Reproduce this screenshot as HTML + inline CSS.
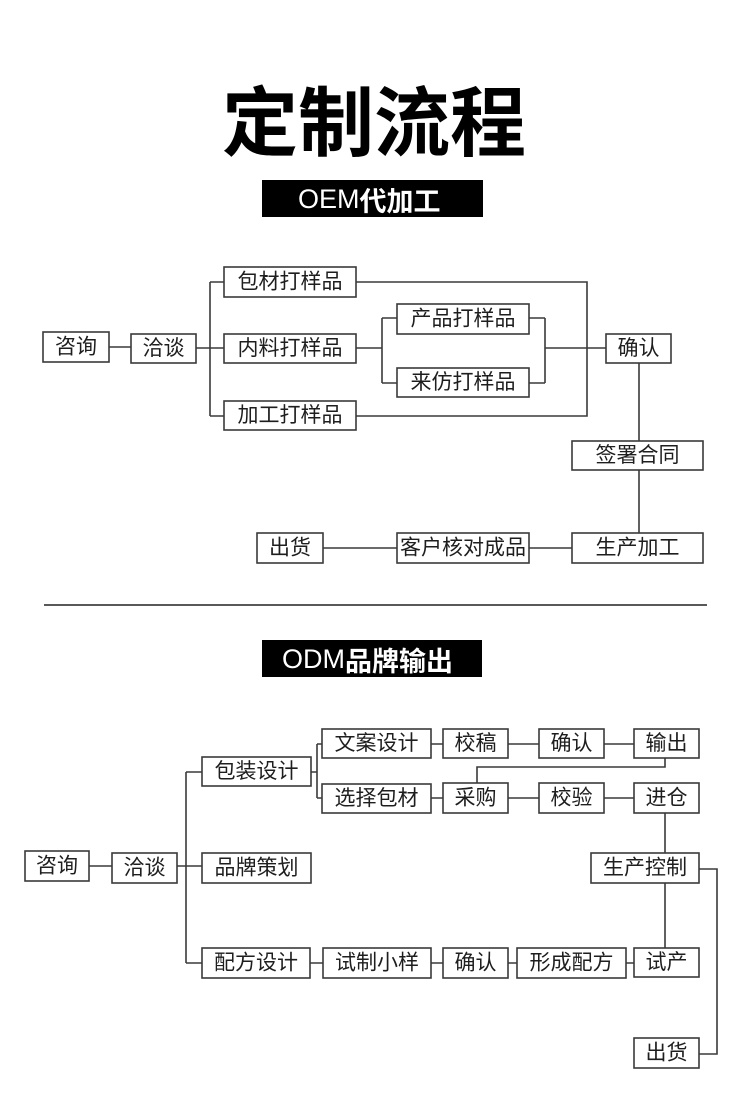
<!DOCTYPE html>
<html>
<head>
<meta charset="utf-8">
<style>
html,body{margin:0;padding:0;background:#fff;}
svg{display:block;}
.b{fill:#fff;stroke:#3a3a3a;stroke-width:1.6;}
.l{fill:none;stroke:#3a3a3a;stroke-width:1.6;}
.t{font-family:"Liberation Sans","Noto Sans CJK SC",sans-serif;font-size:21px;fill:#1e1e1e;text-anchor:middle;dominant-baseline:central;}
</style>
</head>
<body>
<svg width="750" height="1104" viewBox="0 0 750 1104" xmlns="http://www.w3.org/2000/svg">
<rect width="750" height="1104" fill="#fff"/>
<!-- Title -->
<text x="374" y="117" style="font-family:'Noto Sans CJK SC',sans-serif;font-size:76px;font-weight:bold;fill:#000;text-anchor:middle;dominant-baseline:central;">定制流程</text>

<!-- OEM label -->
<rect x="262" y="180" width="221" height="37" fill="#000"/>
<text x="298" y="199" style="font-size:27px;fill:#fff;dominant-baseline:central;"><tspan style="font-family:'Liberation Sans',sans-serif;font-weight:normal;">OEM</tspan><tspan style="font-family:'Noto Sans CJK SC',sans-serif;font-weight:bold;">代加工</tspan></text>

<!-- OEM lines -->
<path class="l" d="M109 347H131 M196 348H210 M210 282V416 M210 282H224 M210 348H224 M210 416H224
M356 282H587V416H356 M356 348H382 M382 318V383 M382 318H397 M382 383H397
M529 318H545 M529 383H545 M545 318V383 M545 348H606
M639 363V441 M639 470V533 M323 548H397 M529 548H572"/>

<!-- OEM boxes -->
<rect class="b" x="43" y="332" width="66" height="30"/><text class="t" x="76" y="347">咨询</text>
<rect class="b" x="131" y="334" width="65" height="29"/><text class="t" x="163.5" y="348.5">洽谈</text>
<rect class="b" x="224" y="267" width="132" height="30"/><text class="t" x="290" y="282">包材打样品</text>
<rect class="b" x="224" y="334" width="132" height="29"/><text class="t" x="290" y="348.5">内料打样品</text>
<rect class="b" x="224" y="401" width="132" height="29"/><text class="t" x="290" y="415.5">加工打样品</text>
<rect class="b" x="397" y="304" width="132" height="30"/><text class="t" x="463" y="319">产品打样品</text>
<rect class="b" x="397" y="368" width="132" height="29"/><text class="t" x="463" y="382.5">来仿打样品</text>
<rect class="b" x="606" y="334" width="65" height="29"/><text class="t" x="638.5" y="348.5">确认</text>
<rect class="b" x="572" y="441" width="131" height="29"/><text class="t" x="637.5" y="455.5">签署合同</text>
<rect class="b" x="572" y="533" width="131" height="30"/><text class="t" x="637.5" y="548">生产加工</text>
<rect class="b" x="397" y="533" width="132" height="30"/><text class="t" x="463" y="548">客户核对成品</text>
<rect class="b" x="257" y="533" width="66" height="30"/><text class="t" x="290" y="548">出货</text>

<!-- separator -->
<line x1="44" y1="605" x2="707" y2="605" stroke="#222" stroke-width="1.6"/>

<!-- ODM label -->
<rect x="262" y="640" width="220" height="37" fill="#000"/>
<text x="282" y="659" style="font-size:27px;fill:#fff;dominant-baseline:central;"><tspan style="font-family:'Liberation Sans',sans-serif;font-weight:normal;">ODM</tspan><tspan style="font-family:'Noto Sans CJK SC',sans-serif;font-weight:bold;">品牌输出</tspan></text>

<!-- ODM lines -->
<path class="l" d="M89 866H112 M177 866H202 M186 772V963 M186 772H202 M186 963H202
M311 772H317 M317 744V798 M317 744H322 M317 798H322
M431 744H443 M508 744H539 M604 744H634
M665 758V767H477V783
M431 798H443 M508 798H539 M604 798H634
M665 813V853 M699 869H717V1054H699 M665 883V948
M310 963H323 M431 963H443 M508 963H517 M626 963H634"/>

<!-- ODM boxes -->
<rect class="b" x="25" y="851" width="64" height="30"/><text class="t" x="57" y="866">咨询</text>
<rect class="b" x="112" y="853" width="65" height="30"/><text class="t" x="144.5" y="868">洽谈</text>
<rect class="b" x="202" y="757" width="109" height="29"/><text class="t" x="256.5" y="771.5">包装设计</text>
<rect class="b" x="202" y="853" width="109" height="30"/><text class="t" x="256.5" y="868">品牌策划</text>
<rect class="b" x="202" y="948" width="108" height="30"/><text class="t" x="256" y="963">配方设计</text>
<rect class="b" x="322" y="729" width="109" height="29"/><text class="t" x="376.5" y="743.5">文案设计</text>
<rect class="b" x="322" y="784" width="109" height="29"/><text class="t" x="376.5" y="798.5">选择包材</text>
<rect class="b" x="443" y="729" width="65" height="29"/><text class="t" x="475.5" y="743.5">校稿</text>
<rect class="b" x="539" y="729" width="65" height="29"/><text class="t" x="571.5" y="743.5">确认</text>
<rect class="b" x="634" y="729" width="65" height="29"/><text class="t" x="666.5" y="743.5">输出</text>
<rect class="b" x="443" y="783" width="65" height="30"/><text class="t" x="475.5" y="798">采购</text>
<rect class="b" x="539" y="783" width="65" height="30"/><text class="t" x="571.5" y="798">校验</text>
<rect class="b" x="634" y="783" width="65" height="30"/><text class="t" x="666.5" y="798">进仓</text>
<rect class="b" x="591" y="853" width="108" height="30"/><text class="t" x="645" y="868">生产控制</text>
<rect class="b" x="323" y="948" width="108" height="30"/><text class="t" x="377" y="963">试制小样</text>
<rect class="b" x="443" y="948" width="65" height="30"/><text class="t" x="475.5" y="963">确认</text>
<rect class="b" x="517" y="948" width="109" height="30"/><text class="t" x="571.5" y="963">形成配方</text>
<rect class="b" x="634" y="948" width="65" height="29"/><text class="t" x="666.5" y="962.5">试产</text>
<rect class="b" x="634" y="1038" width="65" height="30"/><text class="t" x="666.5" y="1053">出货</text>
</svg>
</body>
</html>
